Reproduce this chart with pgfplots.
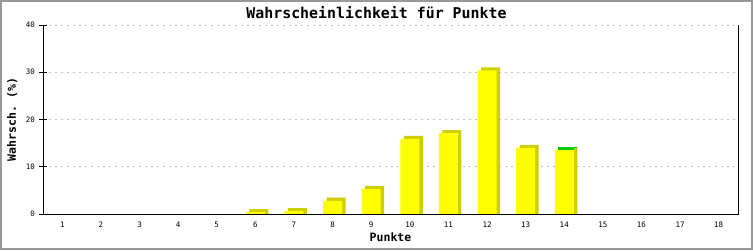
\documentclass[border=0pt]{standalone}
\usepackage{fontspec}
\setmonofont{DejaVu Sans Mono}
\usepackage{pgfplots}
\pgfplotsset{compat=1.18}
\usepackage{pgfplotstable}
\definecolor{barY}{RGB}{255,255,0}
\definecolor{barD}{RGB}{206,206,0}
\definecolor{barG}{RGB}{0,204,0}
\definecolor{gridc}{RGB}{190,190,190}
\definecolor{framec}{RGB}{153,153,153}

\pgfplotstableread{
x p
1 0
2 0
3 0
4 0
5 0
6 0.4
7 0.6
8 2.8
9 5.3
10 15.9
11 17.1
12 30.4
13 14.0
14 13.5
15 0
16 0
17 0
18 0
}\probs

\begin{document}
\begin{tikzpicture}
\useasboundingbox (0pt,0pt) rectangle (753pt,250pt);
\fill[white] (0pt,0pt) rectangle (753pt,250pt);
\begin{axis}[
 name=ax,
 at={(43pt,36pt)}, anchor=south west,
 scale only axis, width=695pt, height=189pt,
 xmin=0.5, xmax=18.5, ymin=0, ymax=40,
 xtick={1,...,18}, ytick={0,10,20,30,40},
 separate axis lines,
 axis x line*=bottom, axis y line*=left,
 axis line style={black, line width=1pt, -},
 ymajorgrids, grid style={gridc, line width=1pt, dash pattern=on 2pt off 4pt},
 major tick style={black, line width=1pt},
 major tick length=9pt, tick align=center,
 xtick style={draw=none},
 tick label style={font=\ttfamily\fontsize{7.5}{8}\selectfont},
 /pgf/number format/assume math mode=true,
 xlabel={Punkte}, ylabel={Wahrsch. (\%)},
 label style={font=\ttfamily\bfseries\fontsize{11.5}{12}\selectfont},
 xlabel style={at={(axis description cs:0.5,-0.1466)}, anchor=base},
 ylabel style={at={(axis description cs:-0.0389,0.5)}, anchor=base},
]
% depth (shadow) of bars
\addplot[ybar, bar width=19pt, bar shift=3.5pt, fill=barD, draw=none,
  restrict x to domain=6:14] table[x=x, y expr=\thisrow{p}+0.65] {\probs};
% green top of the last bar
\addplot[ybar, bar width=19pt, bar shift=3.5pt, fill=barG, draw=none,
  restrict x to domain=13.9:14.1] table[x=x, y expr=\thisrow{p}+0.65] {\probs};
\addplot[ybar, bar width=3.5pt, bar shift=11.25pt, fill=barD, draw=none,
  restrict x to domain=13.9:14.1] table[x=x, y expr=\thisrow{p}+0.45] {\probs};
% front faces
\addplot[ybar, bar width=19pt, bar shift=0pt, fill=barY, draw=none]
  table[x=x, y=p] {\probs};
\end{axis}
\draw[black, line width=1pt] (ax.north west) -- (ax.south west) -- (ax.south east) -- (ax.north east);
\node[font=\ttfamily\bfseries\fontsize{14.9}{16}\selectfont, anchor=base, inner sep=0pt]
  at (376.5pt,232pt) {Wahrscheinlichkeit für Punkte};
\draw[framec, line width=2pt] (1pt,1pt) rectangle (752pt,249pt);
\end{tikzpicture}
\end{document}
